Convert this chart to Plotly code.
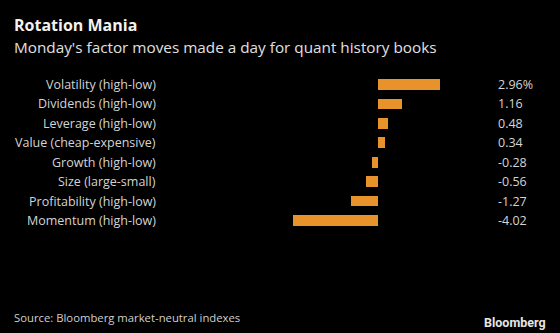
import plotly.graph_objects as go

categories = ["Volatility (high-low)", "Dividends (high-low)", "Leverage (high-low)",
              "Value (cheap-expensive)", "Growth (high-low)", "Size (large-small)",
              "Profitability (high-low)", "Momentum (high-low)"]
values = [2.96, 1.16, 0.48, 0.34, -0.28, -0.56, -1.27, -4.02]
value_labels = ["2.96%", "1.16", "0.48", "0.34", "-0.28", "-0.56", "-1.27", "-4.02"]
title = "Rotation Mania"
subtitle = "Monday's factor moves made a day for quant history books"
source = "Source: Bloomberg market-neutral indexes"

W, H = 560, 333
ZERO_PX, PX_PER_UNIT = 377.5, 21.1
TOP, BOTTOM = 74, 231
FONT = "Open Sans"
BAR = "#E8922C"
TXT = "#d4d4d4"

def px_to_x(px):
    return (px - ZERO_PX) / PX_PER_UNIT

def py_to_paper(py):
    return (BOTTOM - py) / (BOTTOM - TOP)

fig = go.Figure(go.Bar(
    x=values, y=categories, orientation="h",
    marker=dict(color=BAR, line=dict(width=0)),
    width=0.545, hoverinfo="skip",
))

ann = []
for c, v in zip(categories, value_labels):
    ann.append(dict(x=px_to_x(158), y=c, xref="x", yref="y", text=c, showarrow=False,
                    xanchor="right", yanchor="middle",
                    font=dict(family=FONT, size=12.5, color=TXT)))
    ann.append(dict(x=px_to_x(496), y=c, xref="x", yref="y", text=v, showarrow=False,
                    xanchor="left", yanchor="middle",
                    font=dict(family=FONT, size=12.5, color=TXT)))

ann += [
    dict(x=12 / W, y=py_to_paper(25), xref="paper", yref="paper", text=f"<b>{title}</b>",
         showarrow=False, xanchor="left", yanchor="middle",
         font=dict(family=FONT, size=16, color="#f2f2f2")),
    dict(x=12 / W, y=py_to_paper(47), xref="paper", yref="paper", text=subtitle,
         showarrow=False, xanchor="left", yanchor="middle",
         font=dict(family=FONT, size=15.3, color="#e0e0e0")),
    dict(x=12 / W, y=py_to_paper(317), xref="paper", yref="paper",
         text=source,
         showarrow=False, xanchor="left", yanchor="middle",
         font=dict(family=FONT, size=11.3, color="#cfcfcf")),
    dict(x=548 / W, y=py_to_paper(322), xref="paper", yref="paper",
         text="<b>Bloomberg</b>",
         showarrow=False, xanchor="right", yanchor="middle",
         font=dict(family="Roboto", size=12.5, color="#e6e6e6")),
]

fig.update_layout(
    width=W, height=H,
    margin=dict(l=0, r=0, t=TOP, b=H - BOTTOM, pad=0),
    paper_bgcolor="black", plot_bgcolor="black",
    showlegend=False,
    xaxis=dict(range=[px_to_x(0), px_to_x(W)], visible=False, fixedrange=True),
    yaxis=dict(autorange="reversed", visible=False, fixedrange=True),
    annotations=ann,
    bargap=0,
)

fig.write_html("out.html", config={"displayModeBar": False})
